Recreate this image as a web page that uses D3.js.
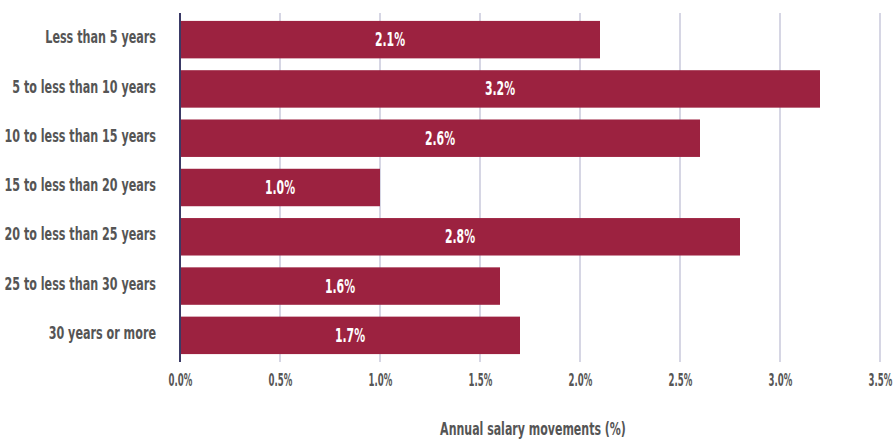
<!DOCTYPE html>
<html>
<head>
<meta charset="utf-8">
<script src="https://cdn.jsdelivr.net/npm/d3@7"></script>
<style>
  html, body { margin: 0; padding: 0; background: #fff; }
  svg { display: block; }
  text { font-family: "DejaVu Sans Condensed", "DejaVu Sans", sans-serif; font-weight: bold; }
</style>
</head>
<body>
<svg id="chart" width="894" height="439"></svg>
<script>
// Tenure bands and their annual salary movement (%)
const categories = [
  "Less than 5 years",
  "5 to less than 10 years",
  "10 to less than 15 years",
  "15 to less than 20 years",
  "20 to less than 25 years",
  "25 to less than 30 years",
  "30 years or more"
];
const values = [2.1, 3.2, 2.6, 1.0, 2.8, 1.6, 1.7];
const xTicks = [0, 0.5, 1.0, 1.5, 2.0, 2.5, 3.0, 3.5];
const axisTitle = "Annual salary movements (%)";

const svg = d3.select("#chart");
const margin = { top: 15, left: 180, right: 14, bottom: 79 };
const width = 894, height = 439;
const plotBottom = height - margin.bottom; // 360

const x = d3.scaleLinear().domain([0, 3.5]).range([margin.left, width - margin.right]);
const y = d3.scaleBand().domain(categories).range([margin.top, plotBottom]).paddingInner(0.24).paddingOuter(0.12);

// Narrow the lettering horizontally for a condensed face
function condense(sel, s) {
  sel.each(function () {
    const t = d3.select(this);
    const x0 = +t.attr("x") || 0;
    t.attr("x", x0 / s).attr("transform", `scale(${s},1)`);
  });
}

// vertical gridlines with short tick extensions below the plot
svg.append("g").selectAll("line").data(xTicks.slice(1)).join("line")
  .attr("x1", d => x(d)).attr("x2", d => x(d))
  .attr("y1", 13).attr("y2", 362)
  .attr("stroke", "#d6d6e4").attr("stroke-width", 2);

// bars
svg.append("g").selectAll("rect").data(values).join("rect")
  .attr("x", x(0))
  .attr("y", (d, i) => y(categories[i]))
  .attr("width", d => x(d) - x(0))
  .attr("height", y.bandwidth())
  .attr("fill", "#9c2240");

// value labels inside bars
const vl = svg.append("g").selectAll("text").data(values).join("text")
  .attr("x", d => (x(0) + x(d)) / 2)
  .attr("y", (d, i) => y(categories[i]) + y.bandwidth() / 2)
  .attr("dy", "0.33em")
  .attr("text-anchor", "middle")
  .attr("fill", "#fff")
  .attr("font-size", 19.5)
  .text(d => d.toFixed(1) + "%");
condense(vl, 0.62);

// baseline
svg.append("line")
  .attr("x1", x(0)).attr("x2", x(0))
  .attr("y1", 13).attr("y2", 362)
  .attr("stroke", "#3a3a66").attr("stroke-width", 2);

// category axis
const yAxis = d3.axisLeft(y).tickSize(0).tickPadding(24);
const gy = svg.append("g").attr("transform", `translate(${x(0)},0)`).call(yAxis);
gy.select(".domain").remove();
gy.attr("font-family", null).attr("font-size", null);
gy.selectAll("text").attr("fill", "#555").attr("font-size", 18).attr("dy", "0.2em");
condense(gy.selectAll("text"), 0.69);

// value axis
const xAxis = d3.axisBottom(x).tickValues(xTicks).tickSize(0).tickPadding(13)
  .tickFormat(d => d.toFixed(1) + "%");
const gx = svg.append("g").attr("transform", `translate(0,${plotBottom})`).call(xAxis);
gx.select(".domain").remove();
gx.attr("font-family", null).attr("font-size", null);
gx.selectAll("text").attr("fill", "#555").attr("font-size", 18);
condense(gx.selectAll("text"), 0.53);

// axis title
const title = svg.append("text")
  .attr("x", (x(0) + x(3.5)) / 2 + 3)
  .attr("y", 435)
  .attr("text-anchor", "middle")
  .attr("fill", "#555")
  .attr("font-size", 18)
  .text(axisTitle);
condense(title, 0.68);
</script>
</body>
</html>
